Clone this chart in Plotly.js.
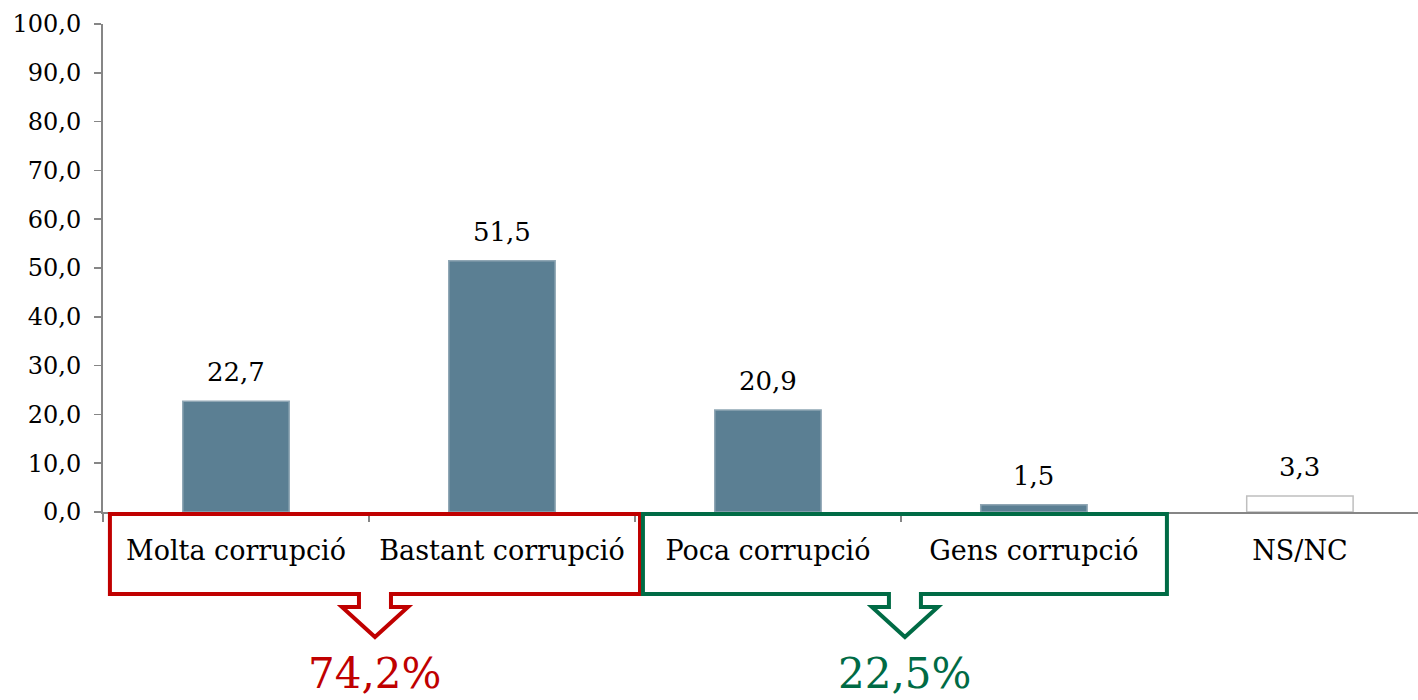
<!DOCTYPE html>
<html><head><meta charset="utf-8">
<script src="https://cdn.plot.ly/plotly-3.0.1.min.js"></script>
<style>html,body{margin:0;padding:0;background:#fff}#chart{width:1418px;height:700px}</style>
</head><body><div id="chart"></div>
<script>
const categories = ["Molta corrupció","Bastant corrupció","Poca corrupció","Gens corrupció","NS/NC"];
const values = [22.7, 51.5, 20.9, 1.5, 3.3];
const groupLabels = ["74,2%", "22,5%"];
const yTicks = [0,10,20,30,40,50,60,70,80,90,100];

const FONT = "DejaVu Serif";
const W = 1418, H = 700, L = 103, R = 0, T = 24, B = 188;
const plotW = W - L - R, plotH = H - T - B;
const xRange = [-0.5, 4.444];
const nCat = categories.length;
// helpers: category units -> paper x, pixel y -> paper y
const cx = c => (c - xRange[0]) / (xRange[1] - xRange[0]);
const py = p => (H - B - p) / plotH;

function callout(x0c, x1c, color) {
  const x0 = cx(x0c), x1 = cx(x1c), xm = (x0 + x1) / 2;
  const yT = py(514), yB = py(594), yH = py(607), yTip = py(637);
  const s = 16 / plotW, h = 33 / plotW;
  const d = `M ${x0} ${yT} L ${x1} ${yT} L ${x1} ${yB} L ${xm + s} ${yB} L ${xm + s} ${yH} L ${xm + h} ${yH} L ${xm} ${yTip} L ${xm - h} ${yH} L ${xm - s} ${yH} L ${xm - s} ${yB} L ${x0} ${yB} Z`;
  return {type: "path", xref: "paper", yref: "paper", path: d, line: {color: color, width: 4}, fillcolor: "rgba(0,0,0,0)", layer: "above"};
}

const RED = "#C00000", GREEN = "#006B45";
const groups = [[-0.474, 1.519, RED], [1.530, 3.5, GREEN]];

const trace = {
  type: "bar",
  x: categories,
  y: values,
  width: 0.4,
  marker: {
    color: values.map((v, i) => i === nCat - 1 ? "#FFFFFF" : "#5B7F93"),
    line: {color: values.map((v, i) => i === nCat - 1 ? "#BFBFBF" : "#8FA6B4"), width: 1.5}
  },
  hoverinfo: "skip"
};

const valueLabels = categories.map((c, i) => ({
  xref: "x", yref: "y", x: c, y: values[i],
  text: values[i].toFixed(1).replace(".", ","),
  showarrow: false, yanchor: "bottom", yshift: 12,
  font: {family: FONT, size: 26, color: "#000"}
}));

const groupAnn = groups.map((g, i) => ({
  xref: "paper", yref: "paper", x: (cx(g[0]) + cx(g[1])) / 2, y: py(674),
  text: groupLabels[i], showarrow: false, xanchor: "center", yanchor: "middle",
  font: {family: FONT, size: 42, color: g[2]}
}));

const layout = {
  width: W, height: H,
  margin: {l: L, r: R, t: T, b: B},
  separators: ",.",
  paper_bgcolor: "#fff", plot_bgcolor: "#fff",
  showlegend: false,
  font: {family: FONT, size: 26, color: "#000"},
  xaxis: {
    type: "category", range: xRange,
    showline: true, linecolor: "#868686", linewidth: 2,
    ticks: "outside", tickson: "boundaries", ticklen: 8, tickcolor: "#868686", tickwidth: 1.5,
    ticklabelstandoff: 14,
    tickfont: {family: FONT, size: 27, color: "#000"},
    showgrid: false, zeroline: false, fixedrange: true
  },
  yaxis: {
    range: [0, 100],
    tickvals: yTicks, tickformat: ".1f",
    showline: true, linecolor: "#868686", linewidth: 2,
    ticks: "outside", ticklen: 7, tickcolor: "#868686", tickwidth: 1.5,
    ticklabelstandoff: 8,
    tickfont: {family: FONT, size: 24, color: "#000"},
    showgrid: false, zeroline: false, fixedrange: true
  },
  shapes: groups.map(g => callout(g[0], g[1], g[2])),
  annotations: valueLabels.concat(groupAnn)
};

Plotly.newPlot("chart", [trace], layout, {displayModeBar: false, staticPlot: true});
</script></body></html>
